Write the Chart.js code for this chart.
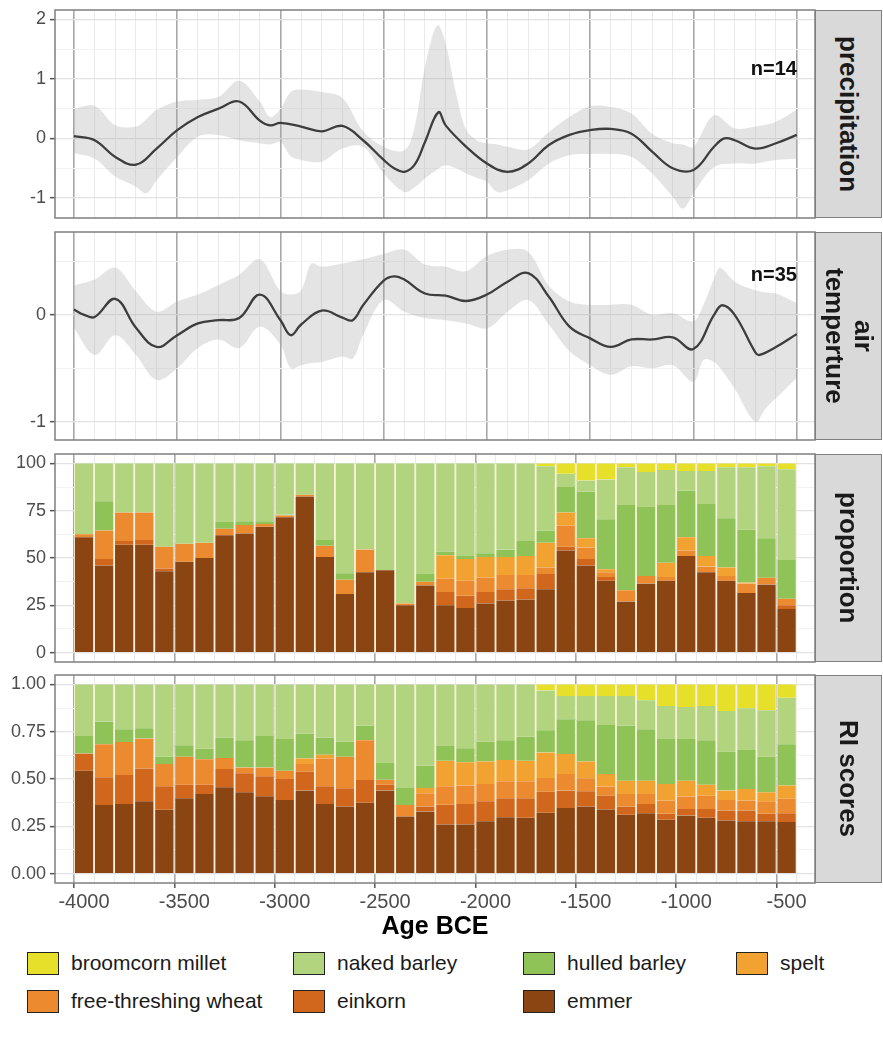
<!DOCTYPE html>
<html>
<head>
<meta charset="utf-8">
<script src="https://cdn.jsdelivr.net/npm/chart.js@4.4.0/dist/chart.umd.min.js"></script>
<style>
  body { margin: 0; background: #fff; font-family: "Liberation Sans", Arial, sans-serif; }
  #wrap { position: relative; width: 883px; height: 1038px; overflow: hidden; }
  #wrap canvas { position: absolute; left: 0; }
  .strip { position: absolute; left: 815px; width: 67px; background: #d9d9d9;
           border: 1.5px solid #7f7f7f; box-sizing: border-box;
           display: flex; align-items: center; justify-content: center; }
  .strip span { writing-mode: vertical-rl; font-weight: bold; font-size: 26px;
                color: #1a1a1a; text-align: center; line-height: 1.15; }
  .nlab { position: absolute; left: 700px; width: 97px; text-align: right;
          font-size: 20px; font-weight: bold; color: #111; line-height: 22px; }
  #xtitle { position: absolute; left: 55px; width: 760px; top: 911px; text-align: center;
            font-size: 25px; font-weight: bold; color: #000; line-height: 28px; }
  .leg { position: absolute; display: flex; align-items: center; font-size: 21px; color: #1a1a1a; }
  .leg i { display: inline-block; width: 30px; height: 21px; border: 1.5px solid #222;
           margin-right: 12px; box-sizing: content-box; }
</style>
</head>
<body>
<div id="wrap">
  <canvas id="cPrec" width="817" height="222" style="top:0px"></canvas>
  <canvas id="cTemp" width="817" height="222" style="top:222px"></canvas>
  <canvas id="cProp" width="817" height="222" style="top:444px"></canvas>
  <canvas id="cRI"   width="817" height="247" style="top:666px"></canvas>

  <div class="strip" style="top:10px;height:208px"><span>precipitation</span></div>
  <div class="strip" style="top:232px;height:208px"><span>air<br>temperture</span></div>
  <div class="strip" style="top:454px;height:208px"><span>proportion</span></div>
  <div class="strip" style="top:675px;height:208px"><span>RI scores</span></div>

  <div class="nlab" style="top:57px">n=14</div>
  <div class="nlab" style="top:263px">n=35</div>

  <div id="xtitle">Age BCE</div>

  <div class="leg" style="left:27px;top:951px"><i style="background:#e7e02a"></i>broomcorn millet</div>
  <div class="leg" style="left:293px;top:951px"><i style="background:#b2d47e"></i>naked barley</div>
  <div class="leg" style="left:523px;top:951px"><i style="background:#8fc257"></i>hulled barley</div>
  <div class="leg" style="left:736px;top:951px"><i style="background:#f2a230"></i>spelt</div>
  <div class="leg" style="left:27px;top:989px"><i style="background:#eb8a2e"></i>free-threshing wheat</div>
  <div class="leg" style="left:293px;top:989px"><i style="background:#d1671c"></i>einkorn</div>
  <div class="leg" style="left:523px;top:989px"><i style="background:#8b4513"></i>emmer</div>
</div>

<script>
// ---- data ----
const years = [-4000,-3900,-3800,-3700,-3600,-3500,-3400,-3300,-3200,-3100,-3000,-2900,
               -2800,-2700,-2600,-2500,-2400,-2300,-2200,-2100,-2000,-1900,-1800,-1700,
               -1600,-1500,-1400,-1300,-1200,-1100,-1000,-900,-800,-700,-600,-500];
const xLabels = [-4000,-3500,-3000,-2500,-2000,-1500,-1000,-500];

// precipitation (mean curve + band)
const precipYears = [-4000,-3900,-3800,-3700,-3600,-3500,-3400,-3300,-3200,-3100,-3050,-3000,
                     -2900,-2800,-2700,-2600,-2500,-2450,-2400,-2350,-2300,-2235,-2200,-2100,-2000,-1900,
                     -1800,-1700,-1600,-1500,-1400,-1300,-1200,-1100,-1000,-900,-850,-800,-700,-600,-500];
const precipMean  = [0.04,-0.03,-0.31,-0.44,-0.17,0.14,0.36,0.5,0.62,0.3,0.22,0.26,
                     0.2,0.12,0.21,-0.03,-0.36,-0.5,-0.56,-0.44,-0.06,0.44,0.22,-0.14,-0.42,-0.56,
                     -0.42,-0.11,0.06,0.14,0.16,0.08,-0.22,-0.5,-0.53,-0.14,0.0,-0.03,-0.17,-0.08,0.06];
const precipBandYears = [-4000,-3900,-3800,-3700,-3650,-3600,-3500,-3400,-3300,-3200,-3100,-3050,
                         -3000,-2950,-2900,-2800,-2700,-2600,-2500,-2400,-2350,-2300,-2240,-2200,
                         -2150,-2100,-2050,-2000,-1950,-1900,-1800,-1700,-1600,-1500,-1400,-1300,
                         -1200,-1100,-1050,-1000,-900,-800,-700,-600,-500];
const precipUpper = [0.5,0.55,0.22,0.2,0.32,0.48,0.62,0.65,0.7,0.97,0.62,0.36,
                     0.5,0.78,0.82,0.78,0.68,0.12,-0.14,-0.2,0.2,1.2,1.9,1.6,
                     0.76,0.14,-0.03,-0.08,-0.1,-0.14,-0.18,0.11,0.36,0.54,0.53,0.42,
                     0.08,-0.08,-0.1,-0.14,0.39,0.17,0.2,0.28,0.48];
const precipLower = [-0.25,-0.34,-0.64,-0.81,-0.92,-0.7,-0.31,0.03,0.06,-0.03,-0.08,-0.1,
                     -0.06,-0.3,-0.36,-0.39,-0.17,-0.14,-0.59,-0.9,-0.82,-0.67,-0.52,-0.45,
                     -0.5,-0.59,-0.66,-0.73,-0.9,-0.87,-0.7,-0.42,-0.28,-0.26,-0.26,-0.31,
                     -0.59,-0.98,-1.18,-0.92,-0.48,-0.42,-0.42,-0.36,-0.34];

// air temperature (mean curve + band)
const tempYears = [-4000,-3950,-3900,-3800,-3700,-3600,-3500,-3400,-3300,-3200,-3100,-3000,
                   -2950,-2900,-2800,-2700,-2650,-2600,-2500,-2450,-2400,-2300,-2200,-2100,
                   -2000,-1900,-1800,-1700,-1600,-1500,-1400,-1300,-1200,-1100,-1000,-900,
                   -860,-800,-700,-680,-600,-500];
const tempMean  = [0.05,0.0,-0.02,0.15,-0.12,-0.3,-0.19,-0.08,-0.05,-0.03,0.19,-0.05,
                   -0.19,-0.09,0.04,-0.025,-0.05,0.09,0.32,0.36,0.33,0.2,0.18,0.13,
                   0.19,0.31,0.39,0.17,-0.11,-0.22,-0.3,-0.23,-0.23,-0.21,-0.32,0.0,
                   0.09,0.0,-0.35,-0.375,-0.3,-0.18];
const tempBandYears = [-4000,-3900,-3800,-3700,-3600,-3500,-3400,-3300,-3200,-3100,-3000,-2950,
                       -2900,-2850,-2800,-2700,-2650,-2600,-2500,-2400,-2300,-2200,-2100,-2000,
                       -1900,-1800,-1700,-1600,-1500,-1400,-1300,-1200,-1100,-1000,-950,-900,
                       -870,-800,-700,-650,-600,-500];
const tempUpper = [0.275,0.33,0.44,0.22,0.03,0.125,0.19,0.28,0.375,0.52,0.22,0.19,
                   0.23,0.48,0.45,0.48,0.5,0.52,0.57,0.61,0.47,0.45,0.41,0.55,
                   0.61,0.59,0.27,0.125,0.094,0.094,0.094,0.0,0.016,-0.06,0.1,0.34,
                   0.44,0.31,0.23,0.21,0.2,0.11];
const tempLower = [-0.125,-0.375,-0.19,-0.375,-0.61,-0.5,-0.31,-0.23,-0.31,-0.11,-0.28,-0.5,
                   -0.47,-0.45,-0.44,-0.39,-0.41,-0.19,0.14,0.03,-0.03,-0.05,-0.08,-0.125,
                   0.03,0.14,-0.09,-0.34,-0.47,-0.56,-0.48,-0.5,-0.47,-0.625,-0.42,-0.44,
                   -0.5,-0.69,-1.0,-0.875,-0.78,-0.59];

// proportion (%) per crop, stacked from emmer upward
const propEmmer   = [61,46,57,57,43,48,50,62,63,66.5,71.5,82.5,50.5,31,42.5,43.5,25,35.5,
                     25,23.5,26,27.5,28,33.5,54,46,38,27,36.5,38,51,42.5,38,31.5,36,23];
const propEinkorn = [0,3.5,2,2.5,1.5,0,0,0,0,0,0,0,0,0,0,0,0,0,
                     7,6.5,6,6,6,8,2,3.5,2,0,0,0,0,0,0,0,0,2];
const propFree    = [1.5,15,15,14.5,11.5,9.5,8,3.5,4.5,1.5,1,1,6,7.5,12,0,1,2,
                     7,8,7.5,7.5,7,3.5,11,6,2.5,6,4,2,3,3,2.5,5,3.5,3.5];
const propSpelt   = [0,0,0,0,0,0,0,0,0,0,0,0,0,0,0,0,0,0,
                     12.5,11.5,11,9.5,10,13,7,5,1.5,0,0,7.5,7,5.5,4.5,0.5,0,0];
const propHulled  = [0,15.5,0,0,0,0,0,3.5,2,1.5,0.5,0,3,3.5,0,0,0,4,
                     2,1.5,2,4,8,6.5,13.5,24.5,26.5,45,36.5,30.5,24.5,27.5,26,28,21,20.5];
const propNaked   = [37.5,20,26,26,44,42.5,42,31,30.5,30.5,27,16.5,40.5,58,45.5,56.5,74,58.5,
                     46.5,49,47.5,45.5,41,34,7,6,21,20,18.5,18.5,10.5,17.5,27,33,38,48];
const propMillet  = [0,0,0,0,0,0,0,0,0,0,0,0,0,0,0,0,0,0,
                     0,0,0,0,0,1.5,5.5,9,8.5,2,4.5,3.5,4,4,2,2,1.5,3];

// RI scores per crop
const riEmmer   = [0.544,0.363,0.368,0.382,0.337,0.398,0.421,0.456,0.430,0.409,0.389,0.439,
                   0.368,0.354,0.374,0.439,0.302,0.328,0.260,0.260,0.277,0.298,0.295,0.321,
                   0.347,0.354,0.339,0.311,0.319,0.284,0.307,0.295,0.281,0.277,0.277,0.272];
const riEinkorn = [0.091,0.146,0.153,0.174,0.124,0.072,0.049,0.097,0.100,0.105,0.111,0.100,
                   0.093,0.097,0.121,0.031,0,0.026,0.104,0.108,0.105,0.100,0.103,0.112,
                   0.092,0.081,0.073,0.043,0.049,0.032,0.035,0.047,0.052,0.056,0.039,0.047];
const riFree    = [0,0.175,0.175,0.158,0.118,0.148,0.135,0.058,0.031,0.047,0.044,0.040,
                   0.148,0.167,0.210,0.026,0.061,0.071,0.098,0.097,0.092,0.090,0.090,0.072,
                   0.087,0.069,0.048,0.067,0.053,0.070,0.065,0.070,0.056,0.053,0.066,0.076];
const riSpelt   = [0,0,0,0,0,0,0,0,0,0,0,0.030,
                   0.019,0,0,0,0,0.028,0.134,0.123,0.119,0.112,0.108,0.135,
                   0.106,0.089,0.066,0.070,0.070,0.088,0.084,0.058,0.050,0.061,0.048,0.070];
const riHulled  = [0.093,0.120,0.067,0.054,0.039,0.061,0.056,0.108,0.144,0.167,0.167,0.131,
                   0.091,0.080,0.076,0.088,0.090,0.117,0.079,0.075,0.105,0.105,0.127,0.118,
                   0.184,0.218,0.260,0.290,0.272,0.237,0.220,0.235,0.207,0.206,0.188,0.219];
const riNaked   = [0.272,0.196,0.237,0.232,0.382,0.321,0.339,0.281,0.295,0.272,0.289,0.260,
                   0.281,0.302,0.219,0.416,0.547,0.430,0.325,0.337,0.302,0.295,0.277,0.210,
                   0.123,0.128,0.153,0.158,0.153,0.175,0.170,0.181,0.214,0.221,0.245,0.246];
const riMillet  = [0,0,0,0,0,0,0,0,0,0,0,0,
                   0,0,0,0,0,0,0,0,0,0,0,0.032,
                   0.061,0.061,0.061,0.061,0.084,0.114,0.119,0.114,0.140,0.126,0.137,0.070];

const crops  = ["emmer","einkorn","free-threshing wheat","spelt","hulled barley","naked barley","broomcorn millet"];
const colors = ["#8b4513","#d1671c","#eb8a2e","#f2a230","#8fc257","#b2d47e","#e7e02a"];

// ---- helpers ----
const X_MIN = -4092, X_MAX = -411;
const FONT = "'Liberation Sans', Arial, sans-serif";

// ggplot-like panel border
const panelBox = {
  id: "panelBox",
  afterDatasetsDraw(chart) {
    const a = chart.chartArea, ctx = chart.ctx;
    ctx.save();
    ctx.strokeStyle = "#7f7f7f";
    ctx.lineWidth = 1.5;
    ctx.strokeRect(a.left, a.top, a.right - a.left, a.bottom - a.top);
    ctx.restore();
  }
};

function xScale(showLabels) {
  return {
    type: "linear", min: X_MIN, max: X_MAX,
    afterBuildTicks: s => { s.ticks = years.map(v => ({ value: v })); },
    afterFit: s => { s.height = showLabels ? 30 : 0; s.paddingLeft = 0; s.paddingRight = 0; },
    border: { display: false },
    grid: {
      drawTicks: showLabels, tickLength: 5,
      color: c => (c.tick && c.tick.value % 500 === 0) ? "#a8a8a8" : "#eaeaea",
      lineWidth: c => (c.tick && c.tick.value % 500 === 0) ? 1.6 : 1,
      tickColor: c => (c.tick && xLabels.includes(c.tick.value)) ? "#555" : "rgba(0,0,0,0)",
      tickWidth: 1.5
    },
    ticks: {
      display: showLabels, autoSkip: false, maxRotation: 0, padding: 2,
      color: "#4d4d4d", font: { family: FONT, size: 20 },
      callback: v => xLabels.includes(v) ? String(v) : ""
    }
  };
}

function yScale(min, max, tickVals, labelVals, fmt, stacked) {
  return {
    type: "linear", min: min, max: max, stacked: !!stacked,
    afterBuildTicks: s => { s.ticks = tickVals.map(v => ({ value: v })); },
    afterFit: s => { s.width = 55; s.paddingTop = 0; s.paddingBottom = 0; s.paddingLeft = 0; s.paddingRight = 0; },
    border: { display: false },
    grid: {
      tickLength: 5,
      color: c => (c.tick && labelVals.includes(c.tick.value)) ? "#e2e2e2" : "#f2f2f2",
      lineWidth: c => (c.tick && labelVals.includes(c.tick.value)) ? 1.3 : 1,
      tickColor: c => (c.tick && labelVals.includes(c.tick.value)) ? "#555" : "rgba(0,0,0,0)",
      tickWidth: 1.5
    },
    ticks: {
      padding: 4, color: "#4d4d4d", font: { family: FONT, size: 18 },
      callback: v => labelVals.includes(v) ? fmt(v) : ""
    }
  };
}

const pts = (xs, ys) => xs.map((x, i) => ({ x: x, y: ys[i] }));

function lineChart(id, bandYears, lower, upper, meanYears, mean, yOpts) {
  return new Chart(document.getElementById(id), {
    type: "line",
    data: {
      datasets: [
        { data: pts(bandYears, lower), borderWidth: 0, pointRadius: 0, fill: false,
          borderColor: "rgba(0,0,0,0)", tension: 0.35 },
        { data: pts(bandYears, upper), borderWidth: 0, pointRadius: 0, fill: "-1",
          borderColor: "rgba(0,0,0,0)", backgroundColor: "rgba(165,165,165,0.3)",
          tension: 0.35 },
        { data: pts(meanYears, mean), borderColor: "#111", borderWidth: 2.3, pointRadius: 0,
          fill: false, tension: 0.4 }
      ]
    },
    options: {
      responsive: false, devicePixelRatio: 1, animation: false,
      layout: { padding: { top: 10, bottom: 4, left: 0, right: 2 } },
      plugins: { legend: { display: false }, tooltip: { enabled: false } },
      scales: { x: xScale(false), y: yOpts }
    },
    plugins: [panelBox]
  });
}

function barChart(id, series, yOpts, showX, padTop, padBottom) {
  return new Chart(document.getElementById(id), {
    type: "bar",
    data: {
      datasets: series.map((vals, k) => ({
        label: crops[k],
        data: pts(years, vals),
        backgroundColor: colors[k],
        borderColor: "#fcf1de",
        borderWidth: { left: 1, right: 1, top: 0, bottom: 0 },
        borderSkipped: false,
        barThickness: 19.6
      }))
    },
    options: {
      responsive: false, devicePixelRatio: 1, animation: false,
      layout: { padding: { top: padTop, bottom: padBottom, left: 0, right: 2 } },
      plugins: { legend: { display: false }, tooltip: { enabled: false } },
      scales: { x: Object.assign(xScale(showX), { stacked: true }), y: yOpts }
    },
    plugins: [panelBox]
  });
}

// ---- panels ----
lineChart("cPrec", precipBandYears, precipLower, precipUpper, precipYears, precipMean,
  yScale(-1.335, 2.156, [-1, -0.5, 0, 0.5, 1, 1.5, 2], [-1, 0, 1, 2], v => String(v)));

lineChart("cTemp", tempBandYears, tempLower, tempUpper, tempYears, tempMean,
  yScale(-1.17, 0.775, [-1, -0.5, 0, 0.5], [-1, 0], v => String(v)));

barChart("cProp",
  [propEmmer, propEinkorn, propFree, propSpelt, propHulled, propNaked, propMillet],
  yScale(-5, 105, [0, 12.5, 25, 37.5, 50, 62.5, 75, 87.5, 100], [0, 25, 50, 75, 100], v => String(v), true),
  false, 10, 4);

barChart("cRI",
  [riEmmer, riEinkorn, riFree, riSpelt, riHulled, riNaked, riMillet],
  yScale(-0.05, 1.05, [0, 0.125, 0.25, 0.375, 0.5, 0.625, 0.75, 0.875, 1], [0, 0.25, 0.5, 0.75, 1], v => v.toFixed(2), true),
  true, 9, 0);
</script>
</body>
</html>
